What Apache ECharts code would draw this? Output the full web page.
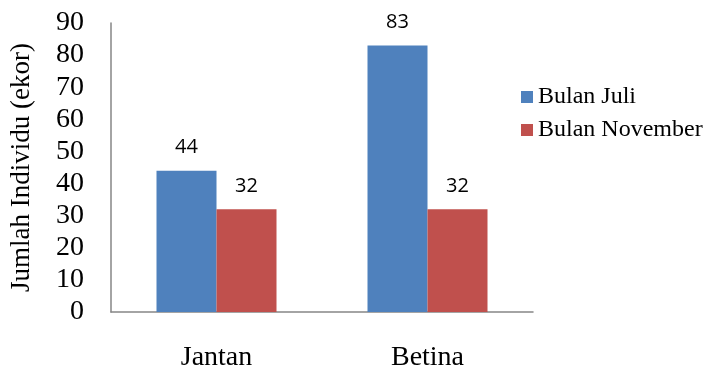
<!DOCTYPE html>
<html>
<head>
<meta charset="utf-8">
<script src="https://cdn.jsdelivr.net/npm/echarts@6/dist/echarts.min.js"></script>
<style>
  html, body { margin: 0; padding: 0; background: #fff; }
  #chart { width: 706px; height: 372px; }
</style>
</head>
<body>
<div id="chart"></div>
<script>
const categories = ['Jantan', 'Betina']
const seriesNames = ['Bulan Juli', 'Bulan November']
const juliValues = [44, 83]
const novemberValues = [32, 32]

const serif = '"Liberation Serif", "Times New Roman", serif'
const sans = '"Open Sans", "Liberation Sans", sans-serif'

const chart = echarts.init(document.getElementById('chart'))

const barStyle = (name, data, color) => ({
  name,
  type: 'bar',
  data,
  barWidth: 60,
  barGap: '0%',
  itemStyle: { color },
  label: {
    show: true,
    position: 'top',
    distance: 13,
    color: '#000',
    fontFamily: sans,
    fontSize: 20
  }
})

chart.setOption({
  animation: false,
  grid: { left: 111, right: 173, top: 23, bottom: 60 },
  legend: {
    orient: 'vertical',
    left: 516,
    top: 80,
    itemWidth: 12,
    itemHeight: 12,
    itemGap: 9,
    icon: 'rect',
    textStyle: { fontFamily: serif, fontSize: 24, color: '#000' },
    data: seriesNames
  },
  xAxis: {
    type: 'category',
    data: categories,
    axisLine: { lineStyle: { color: '#868686', width: 1.5 } },
    axisTick: { show: false },
    axisLabel: { fontFamily: serif, fontSize: 28, color: '#000', margin: 32 }
  },
  yAxis: {
    type: 'value',
    min: 0,
    max: 90,
    interval: 10,
    name: 'Jumlah Individu (ekor)',
    nameLocation: 'middle',
    nameGap: 76,
    nameTextStyle: { fontFamily: serif, fontSize: 27, color: '#000' },
    axisLine: { show: true, lineStyle: { color: '#868686', width: 1.5 } },
    axisTick: { show: false },
    splitLine: { show: false },
    axisLabel: { fontFamily: serif, fontSize: 28, color: '#000', margin: 27 }
  },
  series: [
    barStyle(seriesNames[0], juliValues, '#4F81BD'),
    barStyle(seriesNames[1], novemberValues, '#C0504D')
  ]
})
</script>
</body>
</html>
